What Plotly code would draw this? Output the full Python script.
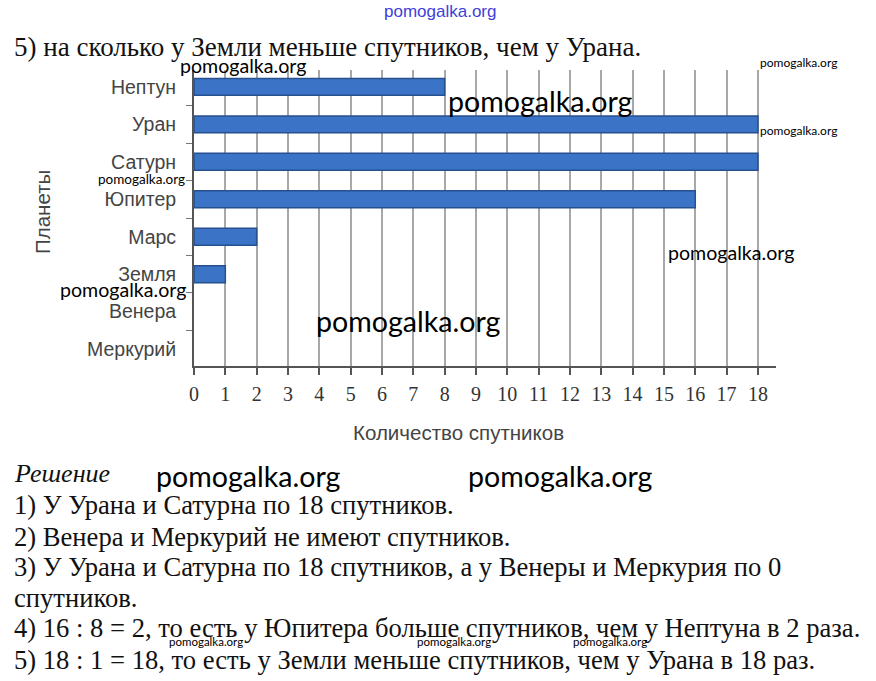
import plotly.graph_objects as go

planets = ["Нептун", "Уран", "Сатурн", "Юпитер", "Марс", "Земля", "Венера", "Меркурий"]
satellites = [8, 18, 18, 16, 2, 1, 0, 0]
x_ticks = list(range(0, 19))

question = "5) на сколько у Земли меньше спутников, чем у Урана."
solution_title = "Решение"
solution_lines = [
    "1) У Урана и Сатурна по 18 спутников.",
    "2) Венера и Меркурий не имеют спутников.",
    "3) У Урана и Сатурна по 18 спутников, а у Венеры и Меркурия по 0",
    "спутников.",
    "4) 16 : 8 = 2, то есть у Юпитера больше спутников, чем у Нептуна в 2 раза.",
    "5) 18 : 1 = 18, то есть у Земли меньше спутников, чем у Урана в 18 раз.",
]
solution_y = [505, 537, 567, 598, 628, 660]

W, H = 876, 681
L, R, T, B = 194, 100, 70, 315
PW, PH = W - L - R, H - T - B


def px(xp, yp):
    return (xp - L) / PW, 1 - (yp - T) / PH


fig = go.Figure()
fig.add_trace(go.Bar(
    y=planets, x=satellites, orientation="h",
    marker=dict(color="#3b74c6",
                line=dict(color="#27508f", width=[1.5 if v > 0 else 0 for v in satellites])),
    width=0.45, hoverinfo="x+y",
))

serif = "Liberation Serif"
ann = []


def add_text(text, xp, yp, size, font=serif, color="#111", xanchor="left", style="normal", angle=0):
    x, y = px(xp, yp)
    ann.append(dict(text=text, x=x, y=y, xref="paper", yref="paper", showarrow=False,
                    xanchor=xanchor, yanchor="middle", textangle=angle,
                    font=dict(family=font, size=size, color=color, style=style)))


add_text(question, 12, 47, 27)
add_text(solution_title, 12, 473, 26, style="italic")
for t, yy in zip(solution_lines, solution_y):
    add_text(t, 12, yy, 26.6)

# axis titles
add_text("Планеты", 42, 212, 20.5, font="Liberation Sans", color="#444", xanchor="center", angle=-90)
add_text("Количество спутников", 458, 432, 20.5, font="Liberation Sans", color="#444", xanchor="center")

# watermarks
wm = "pomogalka.org"
add_text(wm, 440, 12, 17, font="Liberation Sans", color="#4040d8", xanchor="center")
wmarks = [
    (243, 65, 19.6), (798, 62, 12), (540, 101, 28.6), (798, 130, 12), (141, 179, 13.5),
    (731, 252, 19.6), (123, 289, 19.6), (408, 321, 28.6), (248, 476, 28.6), (560, 476, 28.6),
    (206, 641, 11.5), (454, 641, 11.5), (610, 641, 11.5),
]
for xx, yy, s in wmarks:
    add_text(wm, xx, yy, s, font="Lato", color="#000", xanchor="center")

fig.update_layout(
    width=W, height=H,
    margin=dict(l=L, r=R, t=T, b=B),
    paper_bgcolor="white", plot_bgcolor="white",
    showlegend=False,
    annotations=ann,
    xaxis=dict(
        range=[0, PW / 31.33], tickmode="array", tickvals=x_ticks, ticktext=[str(v) for v in x_ticks],
        showgrid=True, gridcolor="#a8a8a8", gridwidth=1.5,
        zeroline=False, showline=True, linecolor="#555", linewidth=2,
        ticks="outside", ticklen=7, tickcolor="#555", tickwidth=1.5,
        tickfont=dict(family=serif, size=20, color="#333"),
        ticklabelstandoff=2,
    ),
    yaxis=dict(
        type="category", categoryorder="array", categoryarray=planets,
        range=[7.45, -0.45],
        showgrid=False, zeroline=False, showline=True, linecolor="#555", linewidth=2,
        ticks="outside", tickson="boundaries", ticklen=6, tickcolor="#777",
        tickfont=dict(family="Liberation Sans", size=19.5, color="#444"),
        ticklabelstandoff=12,
    ),
)

fig.write_html("out.html", config={"displayModeBar": False},
               post_script="document.body.style.margin='0';")
